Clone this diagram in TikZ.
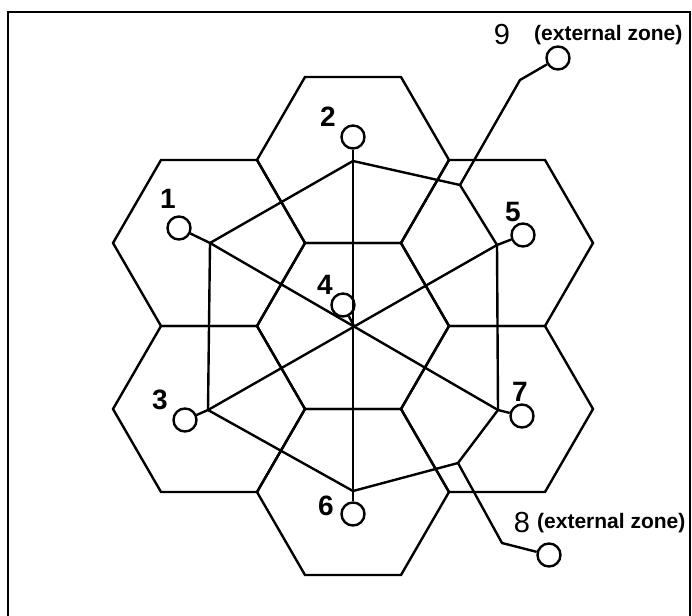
\documentclass[tikz,border=0pt]{standalone}
\usepackage{fontspec}
\setmainfont{Liberation Sans}
\begin{document}
\begin{tikzpicture}[x=1pt,y=-1pt,
  ln/.style={line width=2.4pt,line join=miter},
  hexln/.style={line width=2.4pt,line join=miter},
  stn/.style={circle,draw,line width=2.4pt,minimum size=23pt,inner sep=0pt},
  num/.style={font=\fontsize{28}{28}\selectfont\bfseries,inner sep=0pt},
  extnum/.style={font=\fontsize{29}{29}\selectfont,inner sep=0pt},
  exttxt/.style={font=\fontsize{21}{21}\selectfont\bfseries,inner sep=0pt,anchor=west}]
\useasboundingbox (0,0) rectangle (692,615);
\fill[white] (0,0) rectangle (692,615);
% frame
\draw[line width=2.8pt] (690,640) -- (690,12) -- (8,12) -- (8,640);
% hexagons
\foreach \cx/\cy in {353/326, 353/160, 353/492, 209/243, 209/409, 497/243, 497/409}{
  \draw[hexln] (\cx-96,\cy) -- (\cx-48,\cy-83) -- (\cx+48,\cy-83) -- (\cx+96,\cy)
     -- (\cx+48,\cy+83) -- (\cx-48,\cy+83) -- cycle;
}
% junction points
\coordinate (h1) at (210,243);
\coordinate (h2) at (353,161);
\coordinate (h3) at (208,410);
\coordinate (h4) at (354,326);
\coordinate (h5) at (497,245);
\coordinate (h6) at (353,491);
\coordinate (h7) at (498,410);
\coordinate (A) at (460,185);
\coordinate (B) at (458,463);
\coordinate (b9) at (520,80);
\coordinate (b8) at (502,543);
% stations
\node[stn] (c1) at (179,228) {};
\node[stn] (c2) at (353,137) {};
\node[stn] (c3) at (185,420) {};
\node[stn] (c4) at (343,305) {};
\node[stn] (c5) at (523,235) {};
\node[stn] (c6) at (353,514) {};
\node[stn] (c7) at (522,416) {};
\node[stn] (c9) at (558,58) {};
\node[stn] (c8) at (549,555) {};
% labels
\node[num] (l1) at (168,199) {1};
\node[num] (l2) at (328,117) {2};
\node[num] (l3) at (160,400) {3};
\node[num] (l4) at (325,285) {4};
\node[num] (l5) at (513,212) {5};
\node[num] (l6) at (326,506) {6};
\node[num] (l7) at (520,392) {7};
\node[extnum] (l9) at (502,35) {9};
\node[extnum] (l8) at (522,523) {8};
\node[exttxt] (t9) at (534,35) {(external zone)};
\node[exttxt] (t8) at (537,523) {(external zone)};
% connectors
\draw[ln] (c1) -- (h1) -- (h7) -- (c7);
\draw[ln] (c3) -- (h3) -- (h5) -- (c5);
\draw[ln] (c2) -- (h2) -- (h6) -- (c6);
\draw[ln] (c4) -- (h4);
\draw[ln] (h2) -- (h1) -- (h3) -- (h6) -- (B) -- (h7) -- (h5) -- (A) -- cycle;
\draw[ln] (A) -- (b9) -- (c9);
\draw[ln] (B) -- (b8) -- (c8);
\end{tikzpicture}
\end{document}
